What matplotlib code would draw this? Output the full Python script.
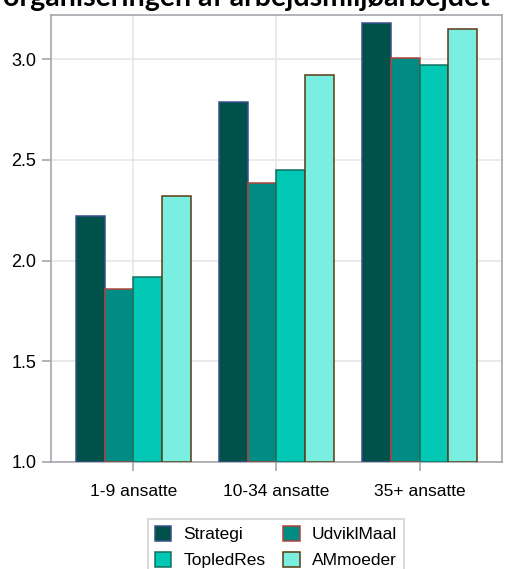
import numpy as np
import matplotlib
matplotlib.use("Agg")
import matplotlib.pyplot as plt

# Data
categories = ['1-9 ansatte', '10-34 ansatte', '35+ ansatte']
series = ['Strategi', 'UdviklMaal', 'TopledRes', 'AMmoeder']
strategi = [2.22, 2.79, 3.18]
udviklmaal = [1.86, 2.385, 3.005]
topledres = [1.92, 2.45, 2.97]
ammoeder = [2.32, 2.92, 3.15]
values = [strategi, udviklmaal, topledres, ammoeder]

fills = ['#00514a', '#008b84', '#00c8b4', '#7aeee0']
edges = ['#3b4f8c', '#b0443a', '#127060', '#5a3b10']

plt.rcParams['font.family'] = ['Liberation Sans', 'DejaVu Sans']

fig = plt.figure(figsize=(5.10, 5.69), dpi=100)
ax = fig.add_axes([51/510, 107/569, 451/510, 447/569])

index = np.arange(len(categories))
bar_width = 0.2
handles = []
for i, (name, vals) in enumerate(zip(series, values)):
    h = ax.bar(index + (i - 1.5) * bar_width, np.array(vals) - 1.0, bar_width,
               bottom=1.0, color=fills[i], edgecolor=edges[i], linewidth=1.1,
               label=name, zorder=3)
    handles.append(h)

ax.set_xlim(-0.575, 2.575)
ax.set_ylim(1.0, 3.22)
ax.set_yticks([1.0, 1.5, 2.0, 2.5, 3.0])
ax.set_yticklabels(['1.0', '1.5', '2.0', '2.5', '3.0'])
ax.set_xticks(index)
ax.set_xticklabels(categories)

ax.grid(True, color='#e6e6e6', linewidth=1.2, zorder=0)
ax.set_axisbelow(True)
for s in ax.spines.values():
    s.set_color('#a3a7ab')
    s.set_linewidth(1.2)
ax.tick_params(axis='both', colors='#a3a7ab', length=6.5, width=1.2,
               labelcolor='black', labelsize=12.5)
ax.tick_params(axis='y', labelsize=13, pad=4)
ax.tick_params(axis='x', pad=9)

# partly cut title at the top edge
fig.text(246/510, 1 - 6/569, 'organiseringen af arbejdsmiljøarbejdet',
         ha='center', va='baseline', fontsize=20.5, fontweight='bold',
         family=['Lato', 'DejaVu Sans'])

order = [0, 2, 1, 3]
leg = fig.legend([handles[k] for k in order], [series[k] for k in order],
                 ncol=2, loc='upper center', bbox_to_anchor=(276/510, 1 - 519/569),
                 borderaxespad=0, fontsize=12.5, frameon=True, fancybox=False,
                 edgecolor='#c8c8c8', handlelength=0.95, handleheight=0.95,
                 columnspacing=1.0, handletextpad=0.7, borderpad=0.4,
                 labelspacing=0.55)
leg.get_frame().set_linewidth(1.2)

fig.savefig('out.png', dpi=100)
